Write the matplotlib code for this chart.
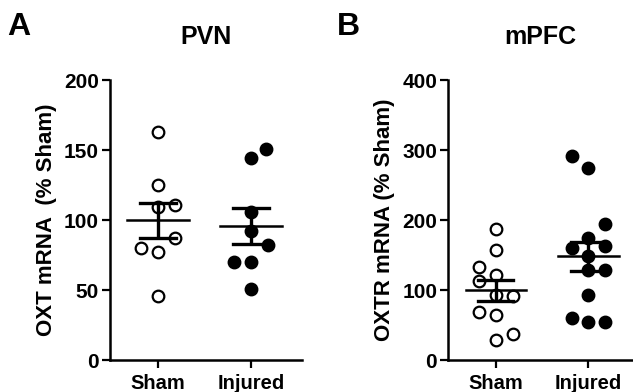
import numpy as np
import matplotlib
matplotlib.use("Agg")
import matplotlib.pyplot as plt

plt.rcParams['font.family'] = ['Liberation Sans', 'DejaVu Sans']
plt.rcParams['font.weight'] = 'bold'

groups = ["Sham", "Injured"]

# PVN, OXT mRNA (% Sham) -- (x offset in category units, value)
pvn_sham_off = [0, 0, 0, 0.18, 0.18, -0.18, 0, 0]
pvn_sham = [163, 125, 109, 111, 87, 80, 77, 46]
pvn_inj_off = [0.16, 0, 0, 0, 0.18, -0.18, 0, 0]
pvn_inj = [151, 144, 106, 92, 82, 70, 70, 51]

# mPFC, OXTR mRNA (% Sham)
pfc_sham_off = [0, 0, -0.18, -0.18, 0, 0.18, 0, -0.18, 0, 0.18, 0]
pfc_sham = [187, 157, 133, 113, 121, 91, 93, 69, 65, 37, 28]
pfc_inj_off = [-0.18, 0, 0.18, 0, -0.18, 0.18, 0, 0, 0.18, 0, -0.18, 0, 0.18]
pfc_inj = [291, 274, 195, 174, 160, 163, 148, 129, 128, 93, 60, 54, 54]


def sem(v):
    v = np.asarray(v, float)
    return v.std(ddof=1) / np.sqrt(len(v))


def draw_panel(ax, sham, sham_off, inj, inj_off, ymax, yticks, ylabel, title, xlim):
    ax.scatter(1 + np.array(sham_off), sham, s=70, facecolors='white',
               edgecolors='black', linewidths=1.6, zorder=2)
    ax.scatter(2 + np.array(inj_off), inj, s=70, facecolors='black',
               edgecolors='black', linewidths=1.6, zorder=2)
    for x, v in [(1, sham), (2, inj)]:
        m = np.mean(v)
        s = sem(v)
        ax.plot([x - 0.33, x + 0.33], [m, m], color='black', lw=1.8, zorder=3)
        ax.errorbar([x], [m], yerr=[s], fmt='none', ecolor='black',
                    elinewidth=2.4, capsize=0, zorder=3)
        for yy in (m - s, m + s):
            ax.plot([x - 0.19, x + 0.19], [yy, yy], color='black', lw=2.4, zorder=3)
    ax.set_xlim(*xlim)
    ax.set_ylim(0, ymax)
    ax.set_yticks(yticks)
    ax.set_xticks([1, 2])
    ax.set_xticklabels(groups)
    ax.spines['top'].set_visible(False)
    ax.spines['right'].set_visible(False)
    for sp in ('left', 'bottom'):
        ax.spines[sp].set_linewidth(1.8)
    ax.tick_params(axis='both', width=1.6, length=6)
    ax.tick_params(axis='y', labelsize=15, pad=2)
    ax.tick_params(axis='x', labelsize=14.5, pad=4)
    ax.set_ylabel(ylabel, fontsize=16, fontweight='bold', labelpad=5)
    ax.set_title(title, fontsize=18, fontweight='bold', pad=26)


fig = plt.figure(figsize=(6.33, 3.92), dpi=100)
ax1 = fig.add_axes([0.1738, 0.0816, 0.3033, 0.7143])
ax2 = fig.add_axes([0.7082, 0.0816, 0.2918, 0.7143])

draw_panel(ax1, pvn_sham, pvn_sham_off, pvn_inj, pvn_inj_off, 200,
           [0, 50, 100, 150, 200], "OXT mRNA  (% Sham)", "PVN", (0.484, 2.548))
draw_panel(ax2, pfc_sham, pfc_sham_off, pfc_inj, pfc_inj_off, 400,
           [0, 100, 200, 300, 400], "OXTR mRNA (% Sham)", "mPFC", (0.483, 2.486))

fig.text(0.012, 0.97, "A", fontsize=23, fontweight='bold', va='top')
fig.text(0.532, 0.97, "B", fontsize=23, fontweight='bold', va='top')

fig.savefig("out.png", dpi=100)
